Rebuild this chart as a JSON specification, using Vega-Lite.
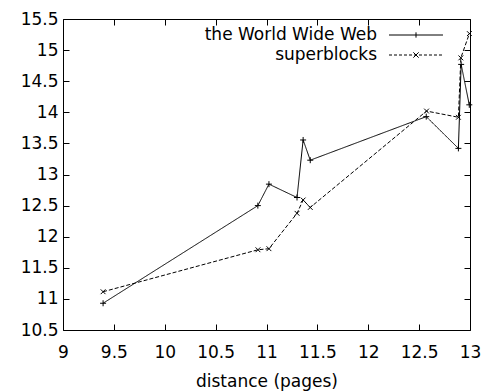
{
  "$schema": "https://vega.github.io/schema/vega-lite/v6.json",
  "width": 407,
  "height": 311,
  "autosize": "none",
  "padding": {"left": 63, "top": 19, "right": 16, "bottom": 62},
  "background": "white",
  "config": {
    "font": "DejaVu Sans",
    "view": {"stroke": "black", "strokeWidth": 1},
    "axis": {
      "grid": false,
      "domain": false,
      "tickColor": "black",
      "tickSize": -6,
      "labelFlush": false,
      "labelColor": "black",
      "labelFont": "DejaVu Sans",
      "labelFontSize": 17,
      "titleFont": "DejaVu Sans",
      "titleFontSize": 17,
      "titleFontWeight": "normal",
      "titleColor": "black"
    },
    "legend": {"padding": 0}
  },
  "data": {
    "values": [
      {"distance": 9.394, "value": 10.93, "series": "the World Wide Web"},
      {"distance": 10.915, "value": 12.50, "series": "the World Wide Web"},
      {"distance": 11.024, "value": 12.845, "series": "the World Wide Web"},
      {"distance": 11.30, "value": 12.63, "series": "the World Wide Web"},
      {"distance": 11.36, "value": 13.555, "series": "the World Wide Web"},
      {"distance": 11.43, "value": 13.23, "series": "the World Wide Web"},
      {"distance": 12.57, "value": 13.93, "series": "the World Wide Web"},
      {"distance": 12.886, "value": 13.42, "series": "the World Wide Web"},
      {"distance": 12.913, "value": 14.77, "series": "the World Wide Web"},
      {"distance": 12.993, "value": 14.12, "series": "the World Wide Web"},
      {"distance": 9.394, "value": 11.115, "series": "superblocks"},
      {"distance": 10.916, "value": 11.79, "series": "superblocks"},
      {"distance": 11.024, "value": 11.807, "series": "superblocks"},
      {"distance": 11.30, "value": 12.376, "series": "superblocks"},
      {"distance": 11.36, "value": 12.59, "series": "superblocks"},
      {"distance": 11.43, "value": 12.47, "series": "superblocks"},
      {"distance": 12.573, "value": 14.02, "series": "superblocks"},
      {"distance": 12.886, "value": 13.92, "series": "superblocks"},
      {"distance": 12.91, "value": 14.875, "series": "superblocks"},
      {"distance": 12.994, "value": 15.265, "series": "superblocks"}
    ]
  },
  "layer": [
    {
      "mark": {"type": "line", "color": "black", "strokeWidth": 1},
      "encoding": {
        "x": {
          "field": "distance", "type": "quantitative",
          "scale": {"domain": [9, 13], "nice": false, "zero": false},
          "axis": {"orient": "bottom", "values": [9, 9.5, 10, 10.5, 11, 11.5, 12, 12.5, 13], "format": "~g", "labelPadding": 20, "title": "distance (pages)", "titlePadding": 13}
        },
        "y": {
          "field": "value", "type": "quantitative",
          "scale": {"domain": [10.5, 15.5], "nice": false, "zero": false},
          "axis": {"orient": "left", "values": [10.5, 11, 11.5, 12, 12.5, 13, 13.5, 14, 14.5, 15, 15.5], "format": "~g", "labelPadding": 11, "title": null}
        },
        "strokeDash": {
          "field": "series", "type": "nominal",
          "scale": {"domain": ["the World Wide Web", "superblocks"], "range": [[1, 0], [4, 2]]},
          "legend": null
        }
      }
    },
    {
      "mark": {"type": "point", "filled": false, "color": "black", "strokeWidth": 1, "size": 36, "opacity": 1},
      "encoding": {
        "x": {
          "field": "distance", "type": "quantitative",
          "axis": {"orient": "top", "values": [9, 9.5, 10, 10.5, 11, 11.5, 12, 12.5, 13], "labels": false, "title": null}
        },
        "y": {
          "field": "value", "type": "quantitative",
          "axis": {"orient": "right", "values": [10.5, 11, 11.5, 12, 12.5, 13, 13.5, 14, 14.5, 15, 15.5], "labels": false, "title": null}
        },
        "shape": {
          "field": "series", "type": "nominal",
          "scale": {"domain": ["the World Wide Web", "superblocks"], "range": ["M-1,0H1M0,-1V1", "M-0.8,-0.8L0.8,0.8M-0.8,0.8L0.8,-0.8"]},
          "legend": null
        }
      }
    },
    {
      "transform": [{"filter": "false"}],
      "mark": {"type": "point", "filled": false, "color": "black", "strokeWidth": 1, "size": 361, "opacity": 1},
      "encoding": {
        "shape": {
          "field": "series", "type": "nominal",
          "scale": {"domain": ["the World Wide Web", "superblocks"], "range": [
            "M-2.842,0H2.842M0,-0.28V0.28",
            "M-2.842,0H-2.526M-2.316,0H-2M-1.79,0H-1.474M-1.264,0H-0.948M-0.738,0H-0.422M-0.212,0H0.104M0.314,0H0.63M0.84,0H1.156M1.366,0H1.682M1.892,0H2.208M2.418,0H2.734M-0.28,-0.28L0.28,0.28M-0.28,0.28L0.28,-0.28"
          ]},
          "legend": {
            "orient": "none",
            "legendX": 343,
            "legendY": 6,
            "title": null,
            "symbolSize": 361,
            "labelFont": "DejaVu Sans",
            "labelFontSize": 17,
            "labelColor": "black",
            "labelAlign": "right",
            "labelOffset": -49,
            "labelLimit": 400,
            "rowPadding": 2,
            "symbolStrokeColor": "black",
            "symbolStrokeWidth": 1,
            "symbolFillColor": "transparent"
          }
        }
      }
    }
  ],
  "resolve": {
    "scale": {"shape": "independent"},
    "axis": {"x": "independent", "y": "independent"}
  }
}
